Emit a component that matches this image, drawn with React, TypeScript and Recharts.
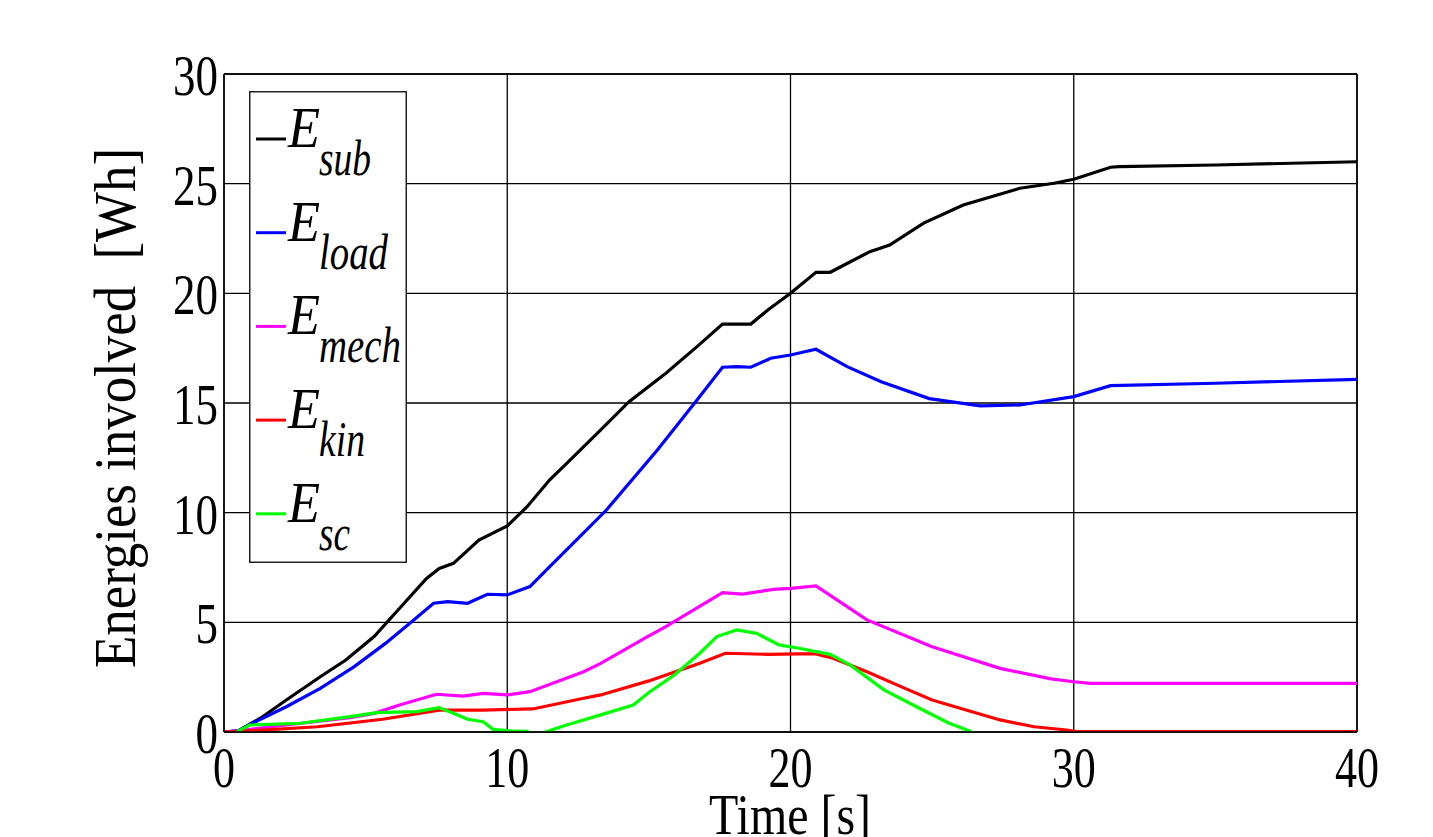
import React from "react";
import {
  LineChart,
  Line,
  XAxis,
  YAxis,
  CartesianGrid,
  Legend,
  ReferenceLine,
} from "recharts";

const SERIF = '"Liberation Serif", "Times New Roman", serif';

// time [s] and energy [Wh]
const subT = [0, 0.5, 1.3, 2.2, 3.4, 4.3, 5.3, 6.2, 7.15, 7.6, 8.1, 9.0, 10.0, 10.7, 11.5, 12.1, 13.3, 14.3, 15.6, 16.7, 17.6, 18.6, 19.2, 20.0, 20.9, 21.4, 22.8, 23.5, 24.7, 26.1, 28.1, 29.3, 30.0, 31.3, 31.6, 35, 40];
const subE = [0, 0.05, 0.64, 1.46, 2.52, 3.28, 4.35, 5.64, 7.0, 7.46, 7.69, 8.75, 9.4, 10.27, 11.5, 12.25, 13.77, 15.06, 16.36, 17.57, 18.6, 18.6, 19.24, 20.0, 20.96, 20.96, 21.9, 22.2, 23.2, 24.03, 24.79, 25.02, 25.2, 25.75, 25.78, 25.85, 26.0];

const loadT = [0, 0.5, 1.0, 2.2, 3.4, 4.6, 5.7, 6.7, 7.4, 7.9, 8.6, 9.3, 10.0, 10.8, 11.5, 12.5, 13.5, 15.3, 16.7, 17.6, 18.1, 18.6, 19.3, 20.0, 20.9, 22.0, 23.2, 24.9, 26.7, 28.1, 30.0, 31.3, 35, 40];
const loadE = [0, 0.05, 0.4, 1.15, 1.99, 2.98, 4.04, 5.11, 5.87, 5.94, 5.87, 6.28, 6.25, 6.63, 7.54, 8.83, 10.12, 12.86, 15.14, 16.63, 16.66, 16.63, 17.04, 17.19, 17.45, 16.66, 15.97, 15.2, 14.87, 14.91, 15.29, 15.79, 15.9, 16.08];

const mechT = [0, 0.5, 2.2, 4.45, 5.3, 6.2, 7.5, 8.45, 9.15, 10.0, 10.8, 12.7, 13.3, 15.0, 15.6, 17.6, 18.3, 19.4, 20.0, 20.9, 22.7, 25.0, 27.4, 29.2, 30.0, 30.6, 40];
const mechE = [0, 0.05, 0.32, 0.65, 0.85, 1.23, 1.72, 1.64, 1.76, 1.69, 1.84, 2.75, 3.13, 4.38, 4.8, 6.35, 6.29, 6.5, 6.55, 6.66, 5.11, 3.89, 2.9, 2.42, 2.29, 2.22, 2.22];

const kinT = [0, 0.9, 3.3, 5.6, 7.6, 9.15, 10.9, 12.7, 13.3, 15.0, 16.8, 17.7, 19.2, 20.3, 20.9, 21.5, 22.7, 23.9, 25.0, 26.2, 27.4, 28.6, 29.75, 30.1, 40];
const kinE = [0, 0.05, 0.24, 0.58, 1.0, 1.0, 1.05, 1.54, 1.69, 2.33, 3.13, 3.59, 3.54, 3.56, 3.56, 3.36, 2.75, 2.07, 1.46, 1.0, 0.55, 0.24, 0.09, 0.02, 0.02];

const scT = [0.45, 0.9, 2.7, 4.45, 5.4, 6.8, 7.6, 8.1, 8.6, 9.15, 9.5, 10.1, 10.7, 11.0, 11.35, 12.1, 13.3, 14.45, 15.0, 15.9, 16.8, 17.4, 18.1, 18.8, 19.6, 20.3, 21.4, 22.1, 23.3, 24.45, 25.6, 26.3, 26.8];
const scE = [0, 0.32, 0.4, 0.7, 0.88, 0.93, 1.11, 0.85, 0.58, 0.47, 0.12, 0.05, 0.03, -0.2, 0.0, 0.32, 0.78, 1.23, 1.8, 2.6, 3.59, 4.35, 4.65, 4.5, 3.97, 3.82, 3.54, 3.06, 1.92, 1.15, 0.4, 0.06, -0.3];

const xTicks = [0, 10, 20, 30, 40];
const yTicks = [0, 5, 10, 15, 20, 25, 30];

const toRows = (t: number[], e: number[]) => t.map((v, i) => ({ t: v, e: e[i] }));

const SERIES = [
  { key: "sub", rows: toRows(subT, subE), color: "#000000" },
  { key: "load", rows: toRows(loadT, loadE), color: "#0000ff" },
  { key: "mech", rows: toRows(mechT, mechE), color: "#ff00ff" },
  { key: "kin", rows: toRows(kinT, kinE), color: "#ff0000" },
  { key: "sc", rows: toRows(scT, scE), color: "#00ff00" },
];

const SUB_WIDTH: Record<string, number> = { sub: 52, load: 69, mech: 82, kin: 46, sc: 31 };

function YTick(props: any) {
  const s = String(props.payload.value);
  return (
    <text
      x={218}
      y={props.y + 21}
      textAnchor="end"
      fontSize={56}
      fontFamily={SERIF}
      fill="#000"
      textLength={s.length * 22.5}
      lengthAdjust="spacingAndGlyphs"
    >
      {s}
    </text>
  );
}

function XTick(props: any) {
  const s = String(props.payload.value);
  return (
    <text
      x={props.x}
      y={787}
      textAnchor="middle"
      fontSize={56}
      fontFamily={SERIF}
      fill="#000"
      textLength={s.length * 22}
      lengthAdjust="spacingAndGlyphs"
    >
      {s}
    </text>
  );
}

// labels ignore whatever props recharts clones in
function XLabel() {
  return (
    <text
      x={790}
      y={834}
      textAnchor="middle"
      fontSize={56}
      fontFamily={SERIF}
      fill="#000"
      textLength={162}
      lengthAdjust="spacingAndGlyphs"
    >
      Time [s]
    </text>
  );
}

function YLabel() {
  return (
    <g transform="translate(135,408) rotate(-90)">
      <text
        x={0}
        y={0}
        textAnchor="middle"
        fontSize={60}
        fontFamily={SERIF}
        fill="#000"
        textLength={520}
        lengthAdjust="spacingAndGlyphs"
        style={{ whiteSpace: "pre" }}
      >
        Energies involved  [Wh]
      </text>
    </g>
  );
}

function LegendBox() {
  return (
    <svg width={158} height={472} style={{ display: "block" }}>
      <rect x={0.75} y={0.75} width={156.5} height={470.5} fill="#fff" stroke="#222" strokeWidth={1.5} />
      {SERIES.map((s, i) => {
        const cy = 48 + i * 93.7;
        return (
          <g key={s.key}>
            <line x1={7} x2={37} y1={cy} y2={cy} stroke={s.color} strokeWidth={3} />
            <text
              x={39}
              y={cy + 8}
              fontSize={56}
              fontStyle="italic"
              fontFamily={SERIF}
              fill="#000"
              textLength={32}
              lengthAdjust="spacingAndGlyphs"
            >
              E
            </text>
            <text
              x={70}
              y={cy + 36}
              fontSize={50}
              fontStyle="italic"
              fontFamily={SERIF}
              fill="#000"
              textLength={SUB_WIDTH[s.key]}
              lengthAdjust="spacingAndGlyphs"
            >
              {s.key}
            </text>
          </g>
        );
      })}
    </svg>
  );
}

export default function App() {
  return (
    <div style={{ position: "absolute", left: 0, top: 0, width: 1433, height: 837, background: "#fff" }}>
      <LineChart width={1433} height={837} margin={{ top: 74, right: 76, bottom: 0, left: 0 }}>
        <CartesianGrid stroke="#000" strokeWidth={1.3} />
        <XAxis
          type="number"
          dataKey="t"
          domain={[0, 40]}
          ticks={xTicks}
          allowDataOverflow
          height={105}
          tickLine={false}
          axisLine={{ stroke: "#000", strokeWidth: 1.5 }}
          tick={<XTick />}
          label={<XLabel />}
        />
        <YAxis
          type="number"
          domain={[0, 30]}
          ticks={yTicks}
          allowDataOverflow
          width={224}
          tickLine={false}
          axisLine={{ stroke: "#000", strokeWidth: 1.5 }}
          tick={<YTick />}
          label={<YLabel />}
        />
        <ReferenceLine y={30} stroke="#000" strokeWidth={1.5} />
        <ReferenceLine x={40} stroke="#000" strokeWidth={1.5} />
        {SERIES.map((s) => (
          <Line
            key={s.key}
            data={s.rows}
            dataKey="e"
            type="linear"
            stroke={s.color}
            strokeWidth={3.2}
            dot={false}
            activeDot={false}
            isAnimationActive={false}
          />
        ))}
        <Legend
          layout="vertical"
          align="center"
          verticalAlign="middle"
          wrapperStyle={{ left: 249, top: 91, width: 158, height: 472 }}
          content={() => <LegendBox />}
        />
      </LineChart>
    </div>
  );
}
